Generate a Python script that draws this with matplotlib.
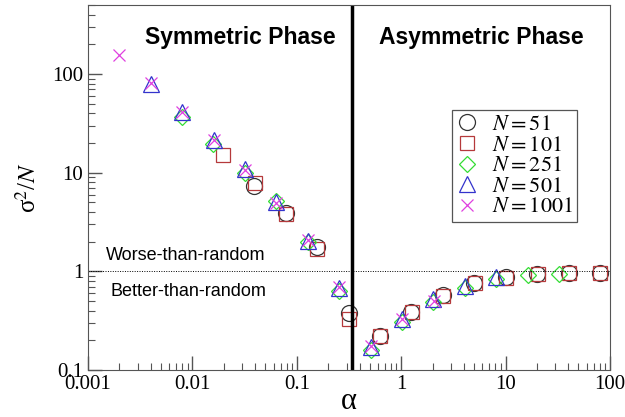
import matplotlib
matplotlib.use('Agg')
import matplotlib.pyplot as plt
import numpy as np

plt.rcParams['font.family'] = 'Liberation Serif'
plt.rcParams['mathtext.fontset'] = 'stix'

# alpha = 2^m / N for each system size
alpha_51 = [0.0392, 0.0784, 0.157, 0.314, 0.627, 1.25, 2.51, 5.02, 10.04, 20.1, 40.2, 80.3]
sig_51 = [7.4, 3.9, 1.75, 0.38, 0.22, 0.39, 0.57, 0.77, 0.87, 0.93, 0.96, 0.97]

alpha_101 = [0.0198, 0.0396, 0.0792, 0.158, 0.317, 0.634, 1.27, 2.53, 5.07, 10.1, 20.3, 40.6, 81.1]
sig_101 = [15.2, 7.9, 3.8, 1.7, 0.33, 0.22, 0.39, 0.56, 0.76, 0.86, 0.93, 0.96, 0.96]

alpha_251 = [0.00797, 0.0159, 0.0319, 0.0637, 0.127, 0.255, 0.510, 1.02, 2.04, 4.08, 8.16, 16.3, 32.6]
sig_251 = [37.0, 19.5, 10.0, 5.2, 2.0, 0.63, 0.16, 0.31, 0.49, 0.68, 0.84, 0.91, 0.95]

alpha_501 = [0.00399, 0.00798, 0.0160, 0.0319, 0.0639, 0.128, 0.255, 0.511, 1.02, 2.04, 4.09, 8.18]
sig_501 = [80.0, 41.0, 21.5, 10.8, 5.0, 2.05, 0.68, 0.17, 0.33, 0.53, 0.71, 0.87]

alpha_1001 = [0.0020, 0.0040, 0.0080, 0.0160, 0.0320, 0.0639, 0.128, 0.256, 0.512, 1.02, 2.05]
sig_1001 = [155.0, 82.0, 41.7, 21.5, 10.7, 4.98, 2.1, 0.69, 0.174, 0.33, 0.50]

alpha_c = 0.34

fig = plt.figure(figsize=(6.25, 4.17), dpi=100)
ax = fig.add_axes([0.1408, 0.1127, 0.835, 0.875])
ax.set_xscale('log')
ax.set_yscale('log')

ms = dict(linestyle='none', markerfacecolor='none', markeredgewidth=0.9)
ax.plot(alpha_51, sig_51, marker='o', markersize=11.5, color='#333333', label='$N = 51$', **ms)
ax.plot(alpha_101, sig_101, marker='s', markersize=9.5, color='#b5393b', label='$N = 101$', **ms)
ax.plot(alpha_251, sig_251, marker='D', markersize=8, color='#33dd33', label='$N = 251$', **ms)
ax.plot(alpha_501, sig_501, marker='^', markersize=11, color='#3333cc', label='$N = 501$', **ms)
ax.plot(alpha_1001, sig_1001, marker='x', markersize=9, color='#e040e0', label='$N = 1001$', **ms)

ax.axvline(alpha_c, color='black', lw=2.5)
ax.axhline(1.0, color='black', lw=0.7, ls=(0, (1, 1.5)))

ax.set_xlim(0.001, 100)
ax.set_ylim(0.1, 500)
ax.set_xticks([0.001, 0.01, 0.1, 1, 10, 100])
ax.set_xticklabels(['0.001', '0.01', '0.1', '1', '10', '100'])
ax.set_yticks([0.1, 1, 10, 100])
ax.set_yticklabels(['0.1', '1', '10', '100'])
ax.tick_params(which='both', direction='in', top=False, right=False, labelsize=15,
               colors='#555555', labelcolor='black')
ax.tick_params(which='major', length=10, width=1)
ax.tick_params(which='minor', length=5, width=0.8)
for s in ax.spines.values():
    s.set_color('#555555')

ax.set_xlabel('α', fontsize=22, va='baseline')
ax.xaxis.set_label_coords(0.5, -0.108)
ax.set_ylabel('σ${}^{2}$/$N$', fontsize=18, labelpad=8)

ax.text(0.291, 0.912, 'Symmetric Phase', transform=ax.transAxes, ha='center', va='center',
        fontsize=16.5, fontweight='bold', family='Liberation Sans')
ax.text(0.754, 0.912, 'Asymmetric Phase', transform=ax.transAxes, ha='center', va='center',
        fontsize=16.5, fontweight='bold', family='Liberation Sans')
ax.text(0.188, 0.315, 'Worse-than-random', transform=ax.transAxes, ha='center', va='center',
        fontsize=13, family='Liberation Sans')
ax.text(0.193, 0.214, 'Better-than-random', transform=ax.transAxes, ha='center', va='center',
        fontsize=13, family='Liberation Sans')

leg = ax.legend(loc='upper left', bbox_to_anchor=(0.697, 0.712), fontsize=16, fancybox=False,
                edgecolor='#555555', framealpha=1, handlelength=1.0, handletextpad=0.6,
                labelspacing=0.0, borderpad=0.2, borderaxespad=0)
leg.get_frame().set_linewidth(0.9)

fig.savefig('out.png', dpi=100)
